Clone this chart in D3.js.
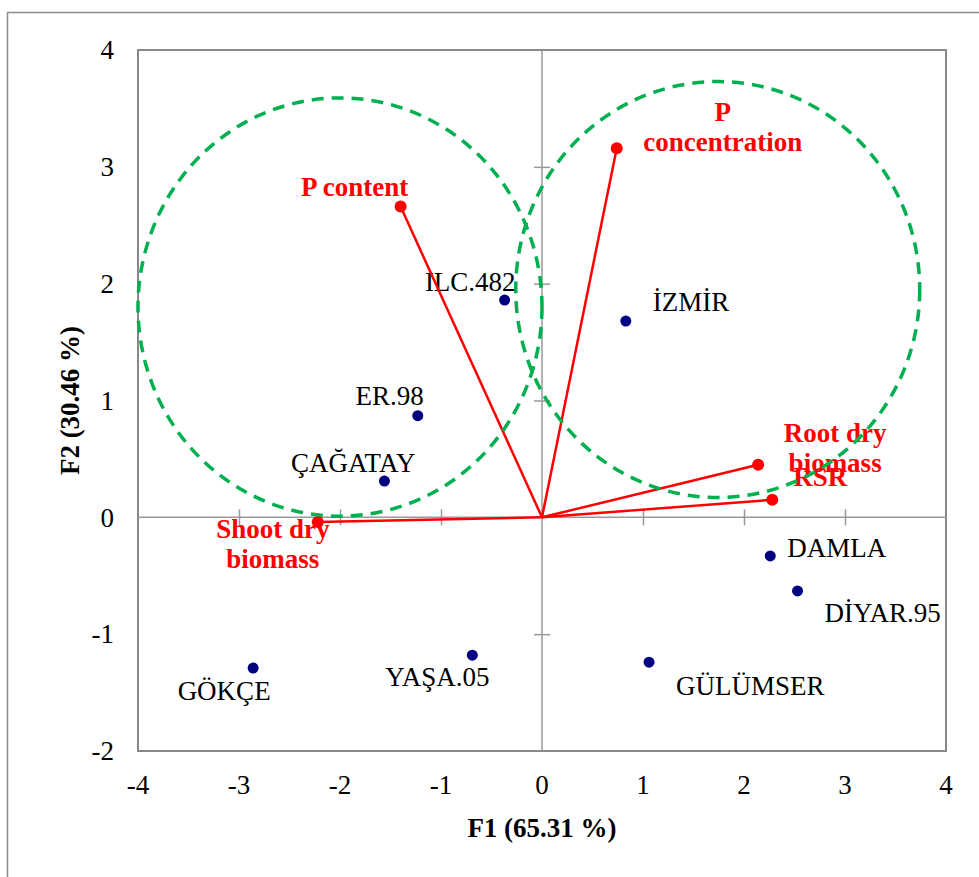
<!DOCTYPE html>
<html>
<head>
<meta charset="utf-8">
<script src="https://cdn.jsdelivr.net/npm/d3@7"></script>
<style>
  html, body { margin: 0; padding: 0; background: #fff; }
  svg { display: block; }
  text { font-family: "Liberation Serif", "Times New Roman", serif; }
</style>
</head>
<body>
<svg id="chart" width="979" height="877"></svg>
<script>
// ---------- data ----------
const obsNames = ["ILC.482", "İZMİR", "ER.98", "ÇAĞATAY", "DAMLA", "DİYAR.95", "GÜLÜMSER", "YAŞA.05", "GÖKÇE"];
const obsF1 = [-0.37, 0.83, -1.23, -1.56, 2.26, 2.53, 1.06, -0.69, -2.86];
const obsF2 = [1.86, 1.68, 0.87, 0.31, -0.33, -0.63, -1.24, -1.18, -1.29];

const varNames = [["P content"], ["P", "concentration"], ["Root dry", "biomass"], ["RSR"], ["Shoot dry", "biomass"]];
const varF1 = [-1.40, 0.74, 2.14, 2.28, -2.22];
const varF2 = [2.66, 3.16, 0.45, 0.15, -0.04];

const circleCx = [-2.0, 1.74];
const circleCy = [1.80, 1.95];
const circleRx = [2.0, 2.0];
const circleRy = [1.79, 1.78];

const xTicks = [-4, -3, -2, -1, 0, 1, 2, 3, 4];
const yTicks = [-2, -1, 0, 1, 2, 3, 4];
const xTitle = "F1 (65.31 %)";
const yTitle = "F2 (30.46 %)";

// ---------- layout (label offsets in px, relative to the mark) ----------
const obsLabelLayout = [
  {anchor: "end", dx: 11, dy: -9},
  {anchor: "start", dx: 27, dy: -10},
  {anchor: "end", dx: 6, dy: -11},
  {anchor: "end", dx: 31, dy: -9},
  {anchor: "start", dx: 17, dy: 1},
  {anchor: "start", dx: 27, dy: 31},
  {anchor: "start", dx: 27, dy: 33},
  {anchor: "middle", dx: -35, dy: 31},
  {anchor: "middle", dx: -29, dy: 32}
];
const varLabelLayout = [
  {dx: -46, dy: -11},
  {dx: 106, dy: -27},
  {dx: 77, dy: -23},
  {dx: 48, dy: -14},
  {dx: -45, dy: 16}
];
const lineGap = 30;

// ---------- chart ----------
const svg = d3.select("#chart");
const plot = {left: 138, right: 946, top: 50, bottom: 751};
const x = d3.scaleLinear().domain([-4, 4]).range([plot.left, plot.right]);
const y = d3.scaleLinear().domain([-2, 4]).range([plot.bottom, plot.top]);
const fontSize = 27;

// outer chart border
svg.append("rect")
  .attr("x", 7.5).attr("y", 12.5).attr("width", 1000).attr("height", 900)
  .attr("fill", "none").attr("stroke", "#8c8c8c").attr("stroke-width", 1.5);

// plot area border
svg.append("rect")
  .attr("x", plot.left).attr("y", plot.top)
  .attr("width", plot.right - plot.left).attr("height", plot.bottom - plot.top)
  .attr("fill", "none").attr("stroke", "#888").attr("stroke-width", 2);

// zero axes with ticks through D3 axes
const xAxisG = svg.append("g").attr("transform", `translate(0,${y(0)})`)
  .call(d3.axisBottom(x).tickValues(xTicks.filter(v => v > -4 && v < 4 && v !== 0)).tickSize(8).tickFormat(""));
const yAxisG = svg.append("g").attr("transform", `translate(${x(0)},0)`)
  .call(d3.axisLeft(y).tickValues(yTicks.filter(v => v > -2 && v < 4 && v !== 0)).tickSize(8).tickFormat(""));
[xAxisG, yAxisG].forEach(g => {
  g.select(".domain").attr("stroke", "#999").attr("stroke-width", 1.5);
  g.selectAll(".tick line").attr("stroke", "#999").attr("stroke-width", 1.5);
});
xAxisG.selectAll(".tick line").attr("y1", -8).attr("y2", 8);
yAxisG.selectAll(".tick line").attr("x1", -8).attr("x2", 8);
xAxisG.select(".domain").attr("d", `M${plot.left},0H${plot.right}`);
yAxisG.select(".domain").attr("d", `M0,${plot.top}V${plot.bottom}`);

// tick labels
svg.append("g").selectAll("text").data(xTicks).join("text")
  .attr("x", d => x(d)).attr("y", 794)
  .attr("text-anchor", "middle").attr("font-size", fontSize).attr("fill", "#000")
  .text(d => d);
svg.append("g").selectAll("text").data(yTicks).join("text")
  .attr("x", 114).attr("y", d => y(d)).attr("dy", "0.34em")
  .attr("text-anchor", "end").attr("font-size", fontSize).attr("fill", "#000")
  .text(d => d);

// axis titles
svg.append("text")
  .attr("x", (plot.left + plot.right) / 2).attr("y", 837)
  .attr("text-anchor", "middle").attr("font-size", fontSize).attr("font-weight", "bold")
  .text(xTitle);
svg.append("text")
  .attr("transform", `translate(79,${(plot.top + plot.bottom) / 2}) rotate(-90)`)
  .attr("text-anchor", "middle").attr("font-size", fontSize).attr("font-weight", "bold")
  .text(yTitle);

// observation points + labels
const obs = obsNames.map((n, i) => ({name: n, f1: obsF1[i], f2: obsF2[i], lay: obsLabelLayout[i]}));
svg.append("g").selectAll("text").data(obs).join("text")
  .attr("x", d => x(d.f1) + d.lay.dx).attr("y", d => y(d.f2) + d.lay.dy)
  .attr("text-anchor", d => d.lay.anchor)
  .attr("font-size", fontSize).attr("fill", "#000")
  .text(d => d.name);
svg.append("g").selectAll("circle").data(obs).join("circle")
  .attr("cx", d => x(d.f1)).attr("cy", d => y(d.f2)).attr("r", 5.5)
  .attr("fill", "#000080");

// variable labels
const vars = varNames.map((n, i) => ({lines: n, f1: varF1[i], f2: varF2[i], lay: varLabelLayout[i]}));
const vl = svg.append("g").selectAll("text").data(vars).join("text")
  .attr("x", d => x(d.f1) + d.lay.dx).attr("y", d => y(d.f2) + d.lay.dy)
  .attr("text-anchor", "middle").attr("font-size", fontSize).attr("font-weight", "bold")
  .attr("fill", "#ff0000");
vl.selectAll("tspan").data(d => d.lines.map((t, j) => ({t, j, d}))).join("tspan")
  .attr("x", o => x(o.d.f1) + o.d.lay.dx)
  .attr("dy", o => o.j === 0 ? 0 : lineGap)
  .text(o => o.t);

// variable vectors
svg.append("g").selectAll("line").data(vars).join("line")
  .attr("x1", x(0)).attr("y1", y(0))
  .attr("x2", d => x(d.f1)).attr("y2", d => y(d.f2))
  .attr("stroke", "#ff0000").attr("stroke-width", 2.5);
svg.append("g").selectAll("circle").data(vars).join("circle")
  .attr("cx", d => x(d.f1)).attr("cy", d => y(d.f2)).attr("r", 6)
  .attr("fill", "#ff0000");

// dashed group ellipses
const ell = circleCx.map((cx, i) => ({cx, cy: circleCy[i], rx: circleRx[i], ry: circleRy[i]}));
svg.append("g").selectAll("ellipse").data(ell).join("ellipse")
  .attr("cx", d => x(d.cx)).attr("cy", d => y(d.cy))
  .attr("rx", d => x(d.cx + d.rx) - x(d.cx)).attr("ry", d => y(d.cy) - y(d.cy + d.ry))
  .attr("fill", "none").attr("stroke", "#00b050").attr("stroke-width", 3.5)
  .attr("stroke-dasharray", "12,8");
</script>
</body>
</html>
